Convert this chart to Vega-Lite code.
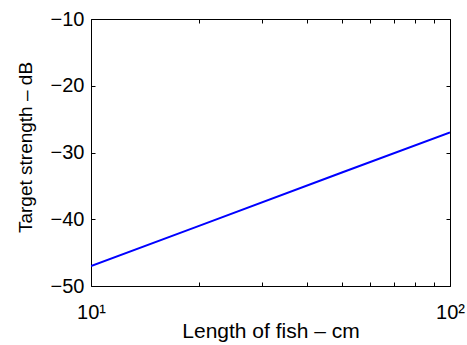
{
  "$schema": "https://vega.github.io/schema/vega-lite/v6.json",
  "width": 359,
  "height": 267,
  "autosize": "none",
  "padding": {"left": 91, "top": 19, "right": 17, "bottom": 59},
  "background": "white",
  "config": {
    "font": "Liberation Sans",
    "view": {"stroke": "black", "strokeWidth": 1},
    "axis": {
      "grid": false,
      "domain": false,
      "tickColor": "black",
      "tickSize": -4,
      "tickWidth": 1,
      "labelColor": "black",
      "titleColor": "black",
      "labelFontSize": 20,
      "titleFontSize": 21,
      "titleFontWeight": "normal",
      "labelFlush": false,
      "labelOverlap": false
    }
  },
  "data": {
    "values": [
      {"length": 10, "ts": -47},
      {"length": 20, "ts": -41},
      {"length": 50, "ts": -33},
      {"length": 100, "ts": -27}
    ]
  },
  "layer": [
    {
      "mark": {"type": "line", "color": "#0000ff", "strokeWidth": 2, "clip": true},
      "encoding": {
        "x": {
          "field": "length",
          "type": "quantitative",
          "scale": {"type": "log", "domain": [10, 100], "nice": false},
          "axis": {
            "orient": "bottom",
            "values": [10, 20, 30, 40, 50, 60, 70, 80, 90, 100],
            "labelExpr": "datum.value == 10 ? '10¹' : (datum.value == 100 ? '10²' : '')",
            "labelBaseline": "alphabetic",
            "labelPadding": 36,
            "title": "Length of fish – cm",
            "titlePadding": -2
          }
        },
        "y": {
          "field": "ts",
          "type": "quantitative",
          "scale": {"domain": [-50, -10], "nice": false, "zero": false},
          "axis": {
            "orient": "left",
            "values": [-50, -40, -30, -20, -10],
            "format": "d",
            "labelPadding": 11,
            "title": "Target strength – dB",
            "titleFontSize": 19,
            "titleY": 128,
            "titlePadding": 15
          }
        }
      }
    },
    {
      "mark": {"type": "line", "opacity": 0},
      "encoding": {
        "x": {
          "field": "length",
          "type": "quantitative",
          "scale": {"type": "log", "domain": [10, 100], "nice": false},
          "axis": {
            "orient": "top",
            "values": [10, 20, 30, 40, 50, 60, 70, 80, 90, 100],
            "labels": false,
            "title": null
          }
        },
        "y": {
          "field": "ts",
          "type": "quantitative",
          "scale": {"domain": [-50, -10], "nice": false, "zero": false},
          "axis": {
            "orient": "right",
            "values": [-50, -40, -30, -20, -10],
            "labels": false,
            "title": null
          }
        }
      }
    }
  ],
  "resolve": {"axis": {"x": "independent", "y": "independent"}}
}
